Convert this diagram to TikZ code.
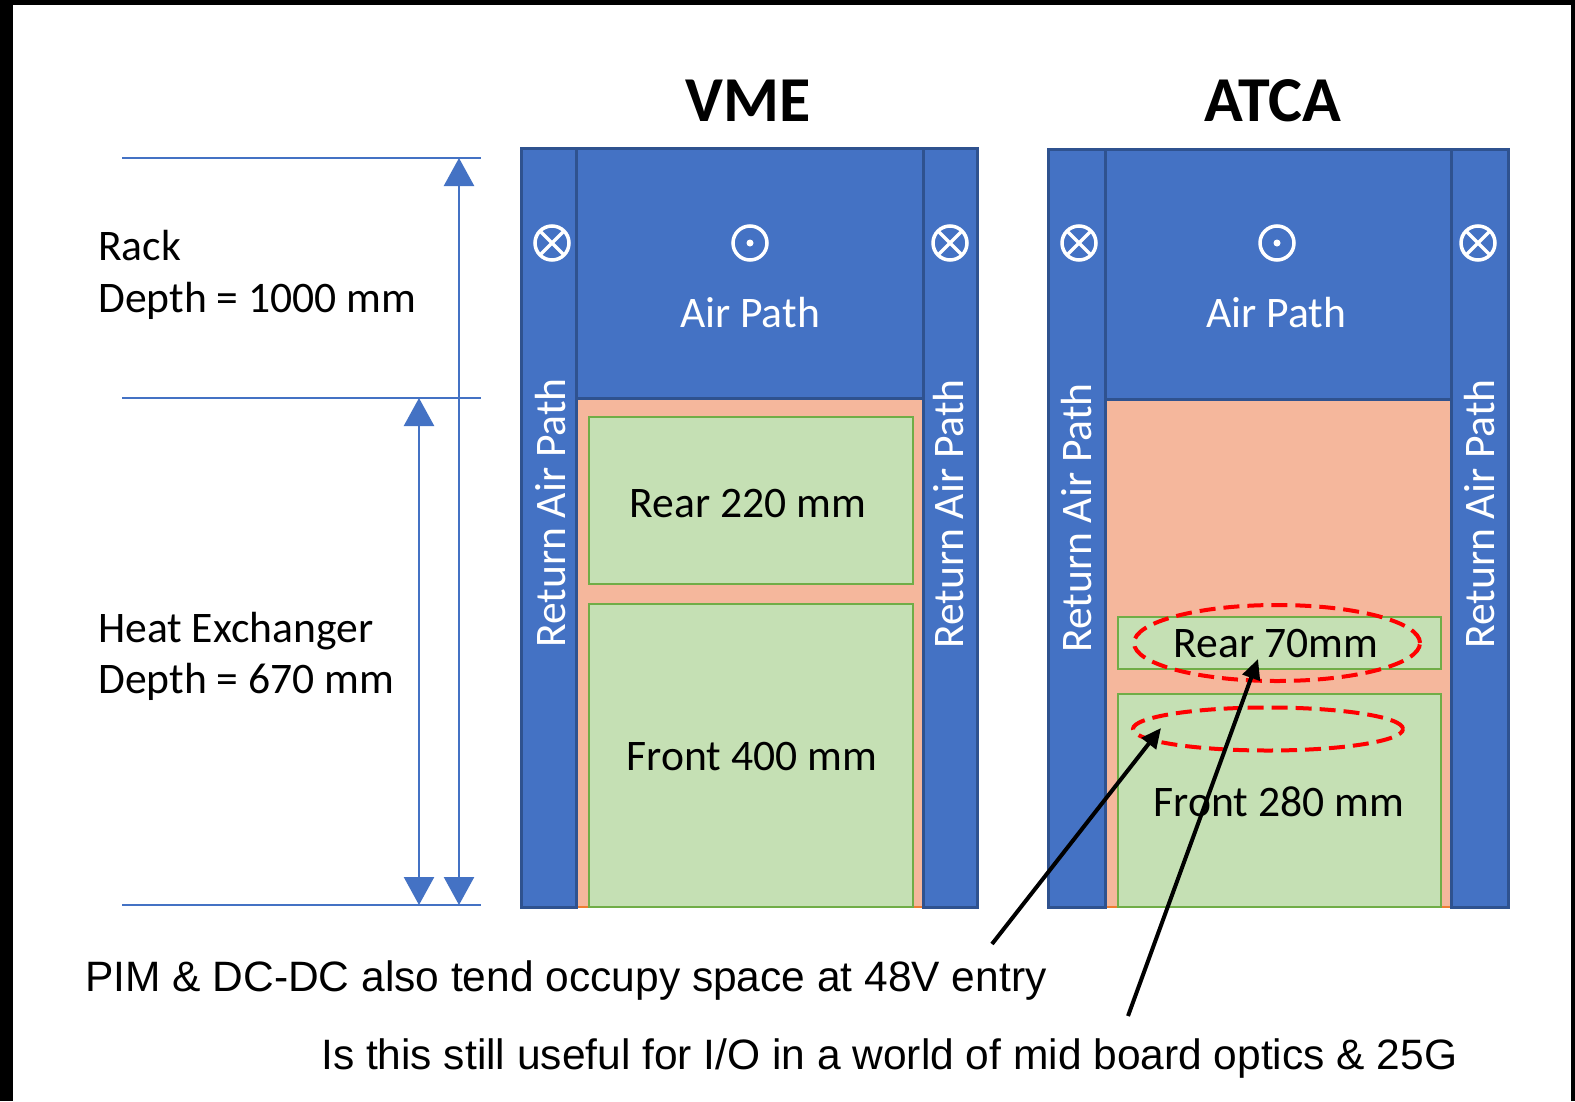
\documentclass[tikz,border=0pt]{standalone}
\usepackage{fontspec}
\setmainfont{Carlito}
\newfontfamily\arialf{Liberation Sans}
\usetikzlibrary{arrows.meta,shapes.geometric}
\definecolor{ablue}{HTML}{4472C4}
\definecolor{dblue}{HTML}{2F528F}
\definecolor{salmonf}{HTML}{F5B79C}
\definecolor{orangeb}{HTML}{ED7D31}
\definecolor{lgreen}{HTML}{C5E0B4}
\definecolor{gborder}{HTML}{70AD47}
\begin{document}
\begin{tikzpicture}[x=1pt,y=-1pt,
  strip/.style={fill=ablue,draw=dblue,line width=3pt},
  heatx/.style={fill=salmonf,draw=orangeb,line width=2pt},
  board/.style={fill=lgreen,draw=gborder,line width=2pt},
  lbl/.style={font=\fontsize{43.6}{51}\selectfont,inner sep=0pt,anchor=base},
  wlbl/.style={lbl,text=white},
  rlbl/.style={wlbl,rotate=90},
  ttl/.style={font=\fontsize{64}{70}\selectfont\bfseries,inner sep=0pt,anchor=base},
  note/.style={font=\arialf\fontsize{42.5}{50}\selectfont,inner sep=0pt,anchor=base west},
  dimline/.style={draw=ablue,line width=2pt},
  dimarrow/.style={draw=ablue,line width=2.5pt,{Triangle[width=30pt,length=28pt]}-{Triangle[width=30pt,length=28pt]}},
  ptr/.style={draw=black,line width=4pt,-{Triangle[width=18pt,length=20pt]}},
  hilite/.style={draw=red,line width=4pt,dash pattern=on 16pt off 8pt},
  icon/.style={draw=white,line width=3.5pt}
]
\fill[black] (0,0) rectangle (1575,1101);
\fill[white] (13,5) rectangle (1571,1101);
\useasboundingbox (0,0) rectangle (1575,1101);

% dimension lines
\draw[dimline] (122,158) -- (481,158);
\draw[dimline] (122,398) -- (481,398);
\draw[dimline] (122,905) -- (481,905);
\coordinate (rackT) at (459,158);
\coordinate (rackB) at (459,905);
\coordinate (hxT) at (419,398);
\coordinate (hxB) at (419,905);
\draw[dimarrow] (rackT) -- (rackB);
\draw[dimarrow] (hxT) -- (hxB);

\node[lbl,anchor=base west] (rack1) at (98,260) {Rack};
\node[lbl,anchor=base west] (rack2) at (98,312) {Depth = 1000 mm};
\node[lbl,anchor=base west] (hx1) at (98,642) {Heat Exchanger};
\node[lbl,anchor=base west] (hx2) at (98,693) {Depth = 670 mm};

% VME
\node[ttl] (vme) at (748,121) {VME};
\draw[heatx] (576,398) rectangle (923,907);
\draw[strip] (576,148) rectangle (923,398);
\draw[strip] (521,148) rectangle (576,907);
\draw[strip] (923,148) rectangle (977,907);
\draw[board] (589,417) rectangle (913,584);
\draw[board] (589,604) rectangle (913,907);
\node[lbl] (vrear) at (748,517) {Rear 220 mm};
\node[lbl] (vfront) at (752,770) {Front 400 mm};
\node[wlbl] (vair) at (750,327) {Air Path};
\node[rlbl] (vretL) at (565,513) {Return Air Path};
\node[rlbl] (vretR) at (963,514) {Return Air Path};
\draw[icon] (552,243) circle (17) ++(-12,-12) -- ++(24,24) ++(0,-24) -- ++(-24,24);
\draw[icon] (950,243) circle (17) ++(-12,-12) -- ++(24,24) ++(0,-24) -- ++(-24,24);
\draw[icon] (750,243) circle (17);
\fill[white] (750,243) circle (3.5);

% ATCA
\node[ttl] (atca) at (1273,121) {ATCA};
\draw[heatx] (1105,399) rectangle (1451,907);
\draw[strip] (1105,149) rectangle (1451,399);
\draw[strip] (1048,149) rectangle (1105,907);
\draw[strip] (1451,149) rectangle (1508,907);
\draw[board] (1118,617) rectangle (1441,669);
\draw[board] (1118,694) rectangle (1441,907);
\node[lbl] (arear) at (1276,657) {Rear 70mm};
\node[lbl] (afront) at (1279,816) {Front 280 mm};
\node[wlbl] (aair) at (1276,327) {Air Path};
\node[rlbl] (aretL) at (1091,518) {Return Air Path};
\node[rlbl] (aretR) at (1494,514) {Return Air Path};
\draw[icon] (1079,243) circle (17) ++(-12,-12) -- ++(24,24) ++(0,-24) -- ++(-24,24);
\draw[icon] (1478,243) circle (17) ++(-12,-12) -- ++(24,24) ++(0,-24) -- ++(-24,24);
\draw[icon] (1277,243) circle (17);
\fill[white] (1277,243) circle (3.5);

% highlights
\node[hilite,ellipse,minimum width=286pt,minimum height=76pt,inner sep=0pt] (ell1) at (1277,643) {};
\node[hilite,ellipse,minimum width=270pt,minimum height=43pt,inner sep=0pt] (ell2) at (1268,729) {};

% notes and pointers
\node[note] (note1) at (85,991) {PIM \& DC-DC also tend occupy space at 48V entry};
\node[note] (note2) at (321,1069) {Is this still useful for I/O in a world of mid board optics \& 25G};
\coordinate (p1s) at (992,944);
\coordinate (p1e) at (1161,728);
\coordinate (p2s) at (1128,1016);
\coordinate (p2e) at (1258,659);
\draw[ptr] (p1s) -- (p1e);
\draw[ptr] (p2s) -- (p2e);
\end{tikzpicture}
\end{document}
